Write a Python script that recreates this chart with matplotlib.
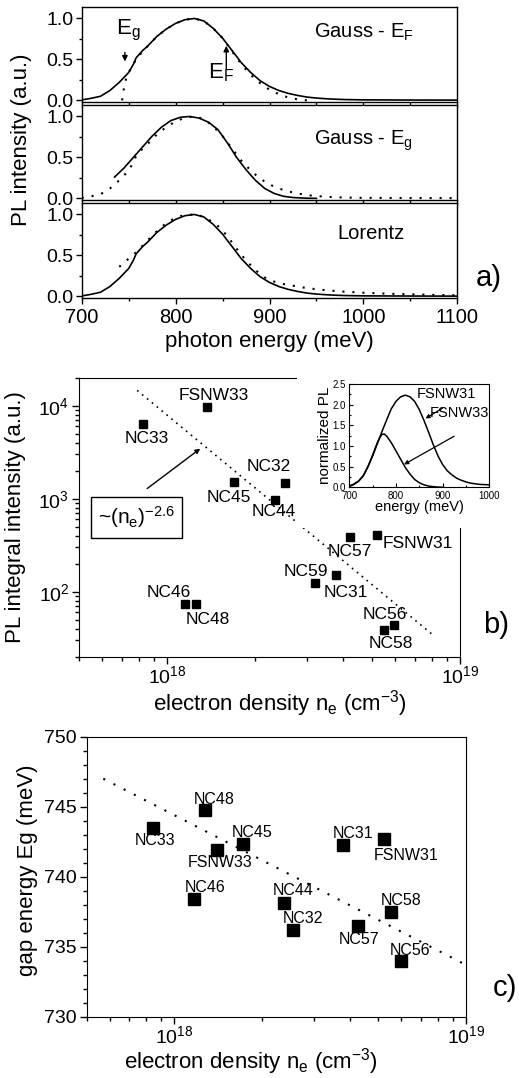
import matplotlib
matplotlib.use("Agg")
import matplotlib.pyplot as plt
from matplotlib.patches import Rectangle
from matplotlib.ticker import MultipleLocator, LogLocator, NullFormatter, FormatStrFormatter

plt.rcParams['font.family'] = ['Liberation Sans', 'DejaVu Sans']
plt.rcParams['mathtext.fontset'] = 'custom'
plt.rcParams['mathtext.rm'] = 'Liberation Sans'
plt.rcParams['mathtext.it'] = 'Liberation Sans'
plt.rcParams['mathtext.bf'] = 'Liberation Sans'

# ---- panel a: normalized PL spectrum and line-shape fits ----
spec_e = [700, 710, 720, 730, 740, 750, 755, 758, 765, 770, 780, 790, 800, 810, 820,
          830, 840, 850, 860, 870, 880, 890, 900, 910, 920, 930, 940, 950, 960, 970,
          980, 1000, 1050, 1100]
spec_pl = [0.005, 0.025, 0.05, 0.12, 0.22, 0.34, 0.44, 0.52, 0.61, 0.66, 0.78, 0.87, 0.94,
           0.985, 1.0, 0.97, 0.88, 0.76, 0.61, 0.46, 0.34, 0.24, 0.17, 0.12, 0.085, 0.06,
           0.04, 0.028, 0.02, 0.014, 0.01, 0.006, 0.004, 0.003]

gef_e = [743, 745, 748, 752, 758, 765, 770, 780, 790, 800, 810, 820, 830, 840, 850,
         860, 870, 880, 890, 900, 910, 920, 930, 940]
gef_pl = [0.0, 0.15, 0.30, 0.38, 0.50, 0.60, 0.66, 0.78, 0.87, 0.94, 0.985, 1.0, 0.97,
          0.88, 0.76, 0.60, 0.44, 0.31, 0.21, 0.13, 0.075, 0.035, 0.012, 0.0]

geg_e = [735, 745, 755, 765, 775, 785, 795, 805, 815, 825, 835, 845, 855, 865, 875,
         885, 895, 905, 915, 925, 940, 950]
geg_pl = [0.26, 0.37, 0.50, 0.63, 0.76, 0.87, 0.95, 0.99, 1.0, 0.98, 0.93, 0.84, 0.68,
          0.50, 0.35, 0.22, 0.12, 0.06, 0.025, 0.01, 0.002, 0.0]

lor_e = [740, 750, 757, 765, 775, 785, 795, 805, 815, 825, 835, 845, 855, 865, 875, 885,
         895, 905, 915, 925, 940, 960, 980, 1000, 1025, 1050, 1075, 1100]
lor_pl = [0.36, 0.46, 0.53, 0.62, 0.74, 0.85, 0.93, 0.98, 1.0, 0.99, 0.94, 0.86, 0.74,
          0.58, 0.44, 0.32, 0.23, 0.18, 0.15, 0.13, 0.10, 0.075, 0.057, 0.044, 0.033,
          0.025, 0.018, 0.013]

fit_names = ['Gauss - E$_\\mathregular{F}$', 'Gauss - E$_\\mathregular{g}$', 'Lorentz']

# ---- panel b: integral PL intensity vs electron density ----
b_names = ['NC33', 'FSNW33', 'NC45', 'NC32', 'NC44', 'NC57', 'FSNW31', 'NC59', 'NC31',
           'NC46', 'NC48', 'NC56', 'NC58']
b_dens = [8.3e17, 1.37e18, 1.69e18, 2.52e18, 2.34e18, 4.22e18, 5.2e18, 3.21e18, 3.77e18,
          1.15e18, 1.25e18, 5.94e18, 5.52e18]
b_int = [6400, 9800, 1520, 1480, 980, 386, 412, 123, 150, 73, 73, 43.6, 38.8]
b_lab_x = [8.5e17, 1.44e18, 1.62e18, 2.23e18, 2.32e18, 4.19e18, 7.2e18, 2.97e18, 4.07e18,
           1.01e18, 1.38e18, 5.52e18, 5.8e18]
b_lab_y = [4400, 12800, 1040, 2200, 723, 269, 327, 164, 99, 97.5, 50.5, 57, 27.7]
b_fit_x = [7.9e17, 8.2e18]
b_fit_y = [1.46e4, 33]

# inset spectra
in_e31 = [700, 710, 720, 730, 740, 750, 760, 770, 780, 790, 800, 810, 820, 830, 840, 850,
          860, 870, 880, 890, 900, 910, 920, 930, 940, 950, 960, 970, 980, 990, 1000]
in_pl31 = [0.03, 0.08, 0.15, 0.28, 0.50, 0.76, 1.05, 1.35, 1.63, 1.90, 2.08, 2.19, 2.23,
           2.19, 2.08, 1.88, 1.62, 1.33, 1.03, 0.76, 0.55, 0.40, 0.30, 0.22, 0.17, 0.13,
           0.10, 0.085, 0.07, 0.065, 0.06]
in_e33 = [700, 710, 720, 730, 740, 750, 760, 765, 770, 775, 780, 790, 800, 810, 820, 830,
          840, 850, 860, 870, 880, 890, 900]
in_pl33 = [0.02, 0.07, 0.15, 0.28, 0.50, 0.78, 1.08, 1.20, 1.28, 1.29, 1.24, 1.08, 0.88,
           0.68, 0.48, 0.32, 0.19, 0.11, 0.06, 0.03, 0.015, 0.005, 0.0]

# ---- panel c: gap energy vs electron density ----
c_names = ['NC33', 'NC48', 'NC45', 'FSNW33', 'NC31', 'FSNW31', 'NC46', 'NC44', 'NC32',
           'NC57', 'NC58', 'NC56']
c_dens = [8.43e17, 1.27e18, 1.72e18, 1.40e18, 3.79e18, 5.25e18, 1.17e18, 2.37e18,
          2.55e18, 4.27e18, 5.54e18, 6.0e18]
c_gap = [743.5, 744.8, 742.35, 741.9, 742.3, 742.7, 738.4, 738.15, 736.2, 736.5, 737.45,
         733.95]
c_lab_x = [8.59e17, 1.37e18, 1.85e18, 1.43e18, 4.09e18, 6.24e18, 1.27e18, 2.56e18,
           2.77e18, 4.29e18, 6.0e18, 6.44e18]
c_lab_y = [742.57, 745.52, 743.17, 741.02, 743.1, 741.55, 739.21, 738.98, 737.02, 735.55,
           738.29, 734.76]
c_fit_x = [5.7e17, 1e19]
c_fit_y = [747.0, 733.7]

W, H = 519, 1078
fig = plt.figure(figsize=(W / 100, H / 100), dpi=100)


def box(l, t, r, b):
    return [l / W, 1 - b / H, (r - l) / W, (b - t) / H]


def px(x, y):
    return x / W, 1 - y / H


tick_fs = 14
lab_fs = 16

# panel a
rows = [(7, 102), (105, 200), (203, 298)]
axes_a = [fig.add_axes(box(81.7, t, 457.3, b)) for t, b in rows]
for i, ax in enumerate(axes_a):
    ax.set_xlim(700, 1100)
    ax.set_ylim(-0.02, 1.14)
    ax.xaxis.set_major_locator(MultipleLocator(100))
    ax.xaxis.set_minor_locator(MultipleLocator(50))
    ax.yaxis.set_major_locator(MultipleLocator(0.5))
    ax.yaxis.set_minor_locator(MultipleLocator(0.25))
    ax.yaxis.set_major_formatter(FormatStrFormatter('%.1f'))
    ax.tick_params(which='both', direction='out', labelsize=14, width=1, pad=2)
    ax.tick_params(axis='x', pad=3.5, labelsize=14.5)
    ax.tick_params(which='major', length=4)
    ax.tick_params(which='minor', length=2.5)
    if i < 2:
        ax.tick_params(axis='x', labelbottom=False)
    for s in ax.spines.values():
        s.set_linewidth(1)

dots_a = (0, (1, 3.8))
axes_a[0].plot(spec_e, spec_pl, color='black', lw=1.2)
axes_a[0].plot(gef_e, gef_pl, color='black', lw=1.5, linestyle=dots_a)
axes_a[1].plot(geg_e, geg_pl, color='black', lw=1.2)
axes_a[1].plot(spec_e, spec_pl, color='black', lw=1.5, linestyle=dots_a)
axes_a[2].plot(spec_e, spec_pl, color='black', lw=1.2)
axes_a[2].plot(lor_e, lor_pl, color='black', lw=1.5, linestyle=dots_a)

for ax, name, ty in zip(axes_a, fit_names, [0.83, 0.70, 0.77]):
    x0 = 972 if name == 'Lorentz' else 947
    ax.text(x0, ty, name, fontsize=14.5, ha='left', va='center')

ax = axes_a[0]
ax.text(737, 0.80, 'E$_\\mathregular{g}$', fontsize=16, ha='left', va='baseline')
ax.annotate('', xy=(746, 0.44), xytext=(746, 0.62),
            arrowprops=dict(arrowstyle='-|>', color='black', lw=1, mutation_scale=8))
ax.text(834, 0.27, 'E$_\\mathregular{F}$', fontsize=16, ha='left', va='baseline')
ax.annotate('', xy=(854, 0.70), xytext=(854, 0.35),
            arrowprops=dict(arrowstyle='-|>', color='black', lw=1, mutation_scale=8))

fig.text(*px(22, 140), 'PL intensity (a.u.)', rotation=90, ha='center', va='center',
         fontsize=lab_fs)
fig.text(*px(269, 341), 'photon energy (meV)', ha='center', va='center', fontsize=lab_fs)
fig.text(*px(489, 278), 'a)', ha='center', va='center', fontsize=21)

# panel b
axb = fig.add_axes(box(79, 377.7, 460, 656.7))
axb.set_xscale('log')
axb.set_yscale('log')
axb.set_xlim(5e17, 1e19)
axb.set_ylim(20, 2e4)
axb.plot(b_fit_x, b_fit_y, color='black', lw=1.2, linestyle=(0, (1, 2.8)))
axb.plot(b_dens, b_int, 's', color='black', ms=6)
for n, x, y in zip(b_names, b_lab_x, b_lab_y):
    axb.text(x, y, n, fontsize=12.5, ha='center', va='center')
axb.annotate('', xy=(1.32e18, 3600), xytext=(8.4e17, 1234),
             arrowprops=dict(arrowstyle='-|>', color='black', lw=1, mutation_scale=7))
axb.text(7.87e17, 628, '~(n$_\\mathregular{e}$)$^\\mathregular{-2.6}$', fontsize=15,
         ha='center', va='center',
         bbox=dict(boxstyle='square,pad=0.35', facecolor='white', edgecolor='black', lw=1))
axb.xaxis.set_major_locator(LogLocator(base=10))
axb.xaxis.set_minor_locator(LogLocator(base=10, subs=range(2, 10)))
axb.xaxis.set_minor_formatter(NullFormatter())
axb.yaxis.set_minor_formatter(NullFormatter())
axb.tick_params(which='both', direction='out', labelsize=tick_fs, width=1, pad=2)
axb.tick_params(axis='x', pad=1)
axb.tick_params(which='major', length=5)
axb.tick_params(which='minor', length=3)
fig.text(*px(16, 517), 'PL integral intensity (a.u.)', rotation=90, ha='center',
         va='center', fontsize=lab_fs)
fig.text(*px(280, 704), 'electron density n$_\\mathregular{e}$ (cm$^\\mathregular{-3}$)',
         ha='center', va='center', fontsize=lab_fs)
fig.text(*px(496, 625), 'b)', ha='center', va='center', fontsize=21)

# white patch that hides the frame behind the inset
fig.add_artist(Rectangle(px(297, 528), (W - 297) / W, (528 - 364) / H,
                         transform=fig.transFigure, facecolor='white', edgecolor='none',
                         zorder=1.5))

axi = fig.add_axes(box(349.3, 384, 489.3, 487.3))
axi.set_zorder(2)
axi.plot(in_e31, in_pl31, color='black', lw=1.1)
axi.plot(in_e33, in_pl33, color='black', lw=1.1)
axi.set_xlim(700, 1000)
axi.set_ylim(0, 2.5)
axi.xaxis.set_major_locator(MultipleLocator(100))
axi.xaxis.set_minor_locator(MultipleLocator(50))
axi.yaxis.set_major_locator(MultipleLocator(0.5))
axi.yaxis.set_minor_locator(MultipleLocator(0.25))
axi.yaxis.set_major_formatter(FormatStrFormatter('%.1f'))
axi.tick_params(which='both', direction='in', labelsize=7, width=0.8, pad=2)
axi.tick_params(axis='x', pad=3)
axi.tick_params(axis='y', pad=2.5)
axi.tick_params(which='major', length=3)
axi.tick_params(which='minor', length=1.5)
for s in axi.spines.values():
    s.set_linewidth(0.8)
axi.set_xlabel('energy (meV)', fontsize=10.5, labelpad=-1)
axi.set_ylabel('normalized PL', fontsize=11, labelpad=0.5)
axi.text(845, 2.27, 'FSNW31', fontsize=10.5, ha='left', va='center')
axi.text(873, 1.81, 'FSNW33', fontsize=10.5, ha='left', va='center')
axi.annotate('', xy=(858, 1.63), xytext=(905, 1.95),
             arrowprops=dict(arrowstyle='-|>', color='black', lw=0.9, mutation_scale=6))
axi.annotate('', xy=(812, 0.52), xytext=(930, 1.27),
             arrowprops=dict(arrowstyle='-|>', color='black', lw=0.9, mutation_scale=6))

# panel c
axc = fig.add_axes(box(86.7, 736.7, 466, 1016.7))
axc.set_xscale('log')
axc.set_xlim(5e17, 1e19)
axc.set_ylim(730, 750)
axc.plot(c_fit_x, c_fit_y, color='black', lw=1.5, linestyle=(0, (1, 4.5)))
axc.plot(c_dens, c_gap, 's', color='black', ms=8.5)
for n, x, y in zip(c_names, c_lab_x, c_lab_y):
    axc.text(x, y, n, fontsize=11.5, ha='center', va='center')
axc.xaxis.set_major_locator(LogLocator(base=10))
axc.xaxis.set_minor_locator(LogLocator(base=10, subs=range(2, 10)))
axc.xaxis.set_minor_formatter(NullFormatter())
axc.yaxis.set_major_locator(MultipleLocator(5))
axc.yaxis.set_minor_locator(MultipleLocator(1))
axc.tick_params(which='both', direction='out', labelsize=tick_fs, width=1, pad=2)
axc.tick_params(axis='x', pad=1)
axc.tick_params(which='major', length=5)
axc.tick_params(which='minor', length=3)
fig.text(*px(28, 870), 'gap energy Eg (meV)', rotation=90, ha='center', va='center',
         fontsize=lab_fs)
fig.text(*px(251, 1062), 'electron density n$_\\mathregular{e}$ (cm$^\\mathregular{-3}$)',
         ha='center', va='center', fontsize=lab_fs)
fig.text(*px(505, 988), 'c)', ha='center', va='center', fontsize=21)

fig.savefig('out.png', dpi=100)
